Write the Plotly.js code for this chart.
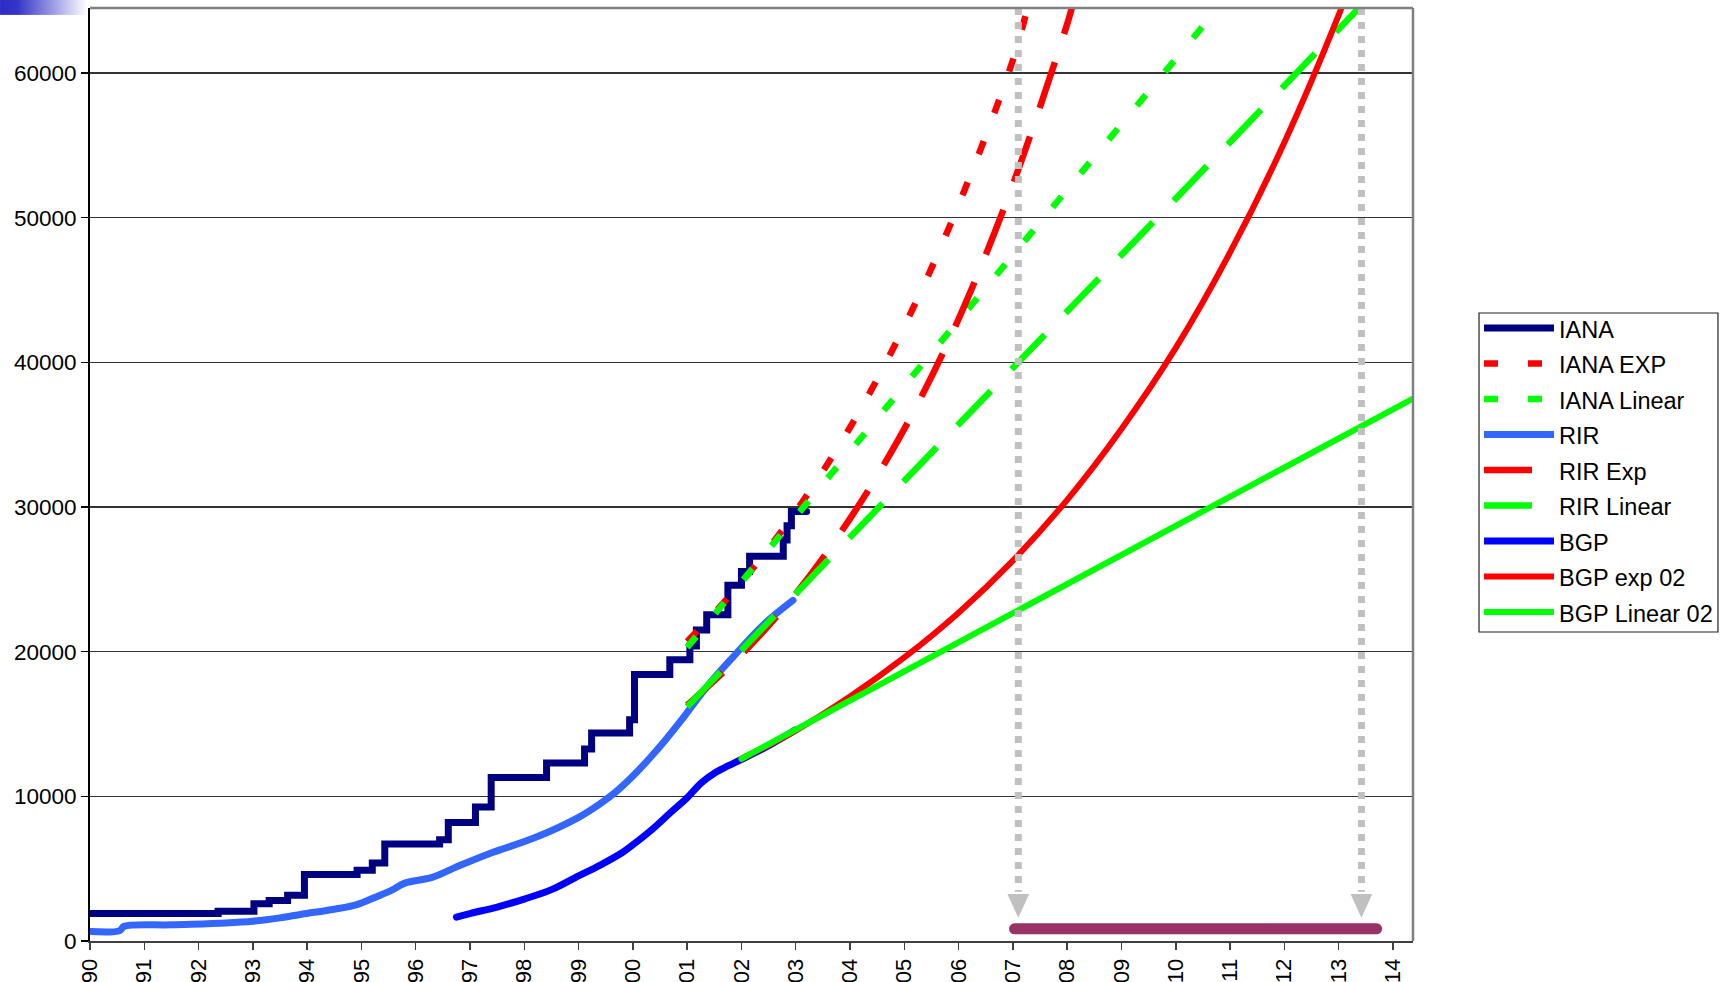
<!DOCTYPE html>
<html><head><meta charset="utf-8">
<script src="https://cdn.plot.ly/plotly-3.0.1.min.js"></script>
<style>
html,body{margin:0;padding:0;background:#fff;overflow:hidden;}
#chart{width:1720px;height:982px;}
.scatterlayer .trace:nth-child(1) path.js-line,
.scatterlayer .trace:nth-child(4) path.js-line,
.scatterlayer .trace:nth-child(7) path.js-line,
.scatterlayer .trace:nth-child(8) path.js-line,
.scatterlayer .trace:nth-child(9) path.js-line,
.scatterlayer .trace:nth-child(10) path.js-line{stroke-linecap:round;}
</style>
</head><body><div id="chart"></div>
<script>
// ---- axis ticks ----
const tickYears = [1990,1991,1992,1993,1994,1995,1996,1997,1998,1999,2000,2001,2002,2003,2004,2005,2006,2007,2008,2009,2010,2011,2012,2013,2014];
const tickLabels = ['90','91','92','93','94','95','96','97','98','99','00','01','02','03','04','05','06','07','08','09','10','11','12','13','14'];
const yTicks = [0,10000,20000,30000,40000,50000,60000];

// ---- IANA (step) ----
const ianaYears  = [1990.0,1992.36,1993.02,1993.3,1993.64,1993.95,1994.92,1995.2,1995.43,1996.44,1996.6,1997.1,1997.39,1998.41,1999.11,1999.24,1999.94,2000.03,2000.68,2001.05,2001.17,2001.36,2001.75,2002.0,2002.15,2002.77,2002.84,2002.92,2003.2];
const ianaValues = [1900,2050,2570,2800,3160,4600,4890,5400,6700,7000,8200,9270,11300,12300,13280,14380,15300,18420,19450,20400,21500,22550,24600,25550,26600,27720,28700,29700,29700];

// ---- IANA EXP / Linear ----
const ianaExpYears  = [2001,2002,2003,2004,2005,2006,2007,2007.3];
const ianaExpValues = [20700,24800,29700,35500,42500,50900,60900,65000];
const ianaLinYears  = [2001,2010.8];
const ianaLinValues = [20300,64600];

// ---- RIR ----
const rirYears  = [1990.0,1990.55,1990.62,1991.5,1992.5,1993.0,1993.5,1993.9,1994.5,1994.9,1995.3,1995.55,1995.8,1996.3,1996.8,1997.4,1998.2,1999.0,1999.4,1999.7,2000.0,2000.3,2000.6,2000.9,2001.2,2001.5,2001.86,2002.4,2002.95];
const rirValues = [650,720,1000,1120,1250,1370,1600,1850,2200,2500,3100,3500,4000,4400,5200,6100,7150,8550,9500,10350,11400,12600,13900,15300,16800,18200,19700,21850,23550];

// ---- RIR Exp / Linear ----
const rirExpYears  = [2001,2002,2003,2004,2005,2006,2007,2008,2008.1];
const rirExpValues = [16300,19800,24000,29200,35400,43000,52300,63400,64700];
const rirLinYears  = [2001,2013.4];
const rirLinValues = [16200,64600];

// ---- BGP ----
const bgpYears  = [1996.75,1997.0,1997.5,1998.0,1998.5,1999.0,1999.4,1999.8,2000.0,2000.35,2000.7,2001.0,2001.25,2001.5,2001.75,2002.0,2002.5,2003.0];
const bgpValues = [1650,1900,2350,2900,3550,4500,5250,6100,6650,7700,8900,9900,10900,11600,12100,12550,13500,14600];

// ---- BGP exp 02 / Linear 02 ----
const bgpExpYears  = [2002,2003,2004,2005,2006,2007,2008,2009,2010,2011,2012,2013,2013.2];
const bgpExpValues = [12600,14550,16900,19600,22700,26300,30500,35400,41000,47600,55200,64000,66000];
const bgpLinYears  = [2002,2014.37];
const bgpLinValues = [12600,37500];

// ---- exhaustion window annotations ----
const arrowYears = [2007.1,2013.42];
const arrowTopValue = 64500;
const arrowBaseValue = 3250;
const arrowTipValue = 1600;
const arrowHalfWidth = 0.2;
const windowYears = [2007.03,2013.7];
const windowValues = [840,840];

const names = ['IANA','IANA EXP','IANA Linear','RIR','RIR Exp','RIR Linear','BGP','BGP exp 02','BGP Linear 02'];
const lbl = n => '<span style="font-size:23.5px">' + n + '</span>';

const RED='#FF0000', GREEN='#00FF00';
const traces = [
  {x:ianaYears,y:ianaValues,name:lbl(names[0]),mode:'lines',line:{color:'#000080',width:7,shape:'hv'}},
  {x:ianaExpYears,y:ianaExpValues,name:lbl(names[1]),mode:'lines',line:{color:RED,width:6.5,dash:'14px,30px',shape:'spline'}},
  {x:ianaLinYears,y:ianaLinValues,name:lbl(names[2]),mode:'lines',line:{color:GREEN,width:6.5,dash:'14px,30px'}},
  {x:rirYears,y:rirValues,name:lbl(names[3]),mode:'lines',line:{color:'#3366FF',width:7,shape:'spline',smoothing:1}},
  {x:rirExpYears,y:rirExpValues,name:lbl(names[4]),mode:'lines',line:{color:RED,width:6.5,dash:'48px,30px',shape:'spline'}},
  {x:rirLinYears,y:rirLinValues,name:lbl(names[5]),mode:'lines',line:{color:GREEN,width:6.5,dash:'48px,30px'}},
  {x:bgpYears,y:bgpValues,name:lbl(names[6]),mode:'lines',line:{color:'#0000FF',width:7,shape:'spline',smoothing:1}},
  {x:bgpExpYears,y:bgpExpValues,name:lbl(names[7]),mode:'lines',line:{color:RED,width:6,shape:'spline'}},
  {x:bgpLinYears,y:bgpLinValues,name:lbl(names[8]),mode:'lines',line:{color:GREEN,width:6}},
  {x:windowYears,y:windowValues,mode:'lines',showlegend:false,hoverinfo:'skip',line:{color:'#993366',width:11}}
];

const shapes = [];
arrowYears.forEach(ax=>{
  shapes.push({type:'line',xref:'x',yref:'y',x0:ax,x1:ax,y0:arrowTopValue,y1:arrowBaseValue+150,layer:'above',
    line:{color:'#C0C0C0',width:7,dash:'7px,7px'}});
  shapes.push({type:'path',xref:'x',yref:'y',layer:'above',fillcolor:'#C0C0C0',line:{width:0},
    path:'M'+(ax-arrowHalfWidth)+','+arrowBaseValue+' L'+(ax+arrowHalfWidth)+','+arrowBaseValue+' L'+ax+','+arrowTipValue+' Z'});
});
// top and right frame lines
shapes.push({type:'line',xref:'paper',yref:'paper',x0:0,x1:1,y0:1,y1:1,layer:'above',line:{color:'#808080',width:2.5}});
shapes.push({type:'line',xref:'paper',yref:'paper',x0:1,x1:1,y0:0,y1:1,layer:'above',line:{color:'#808080',width:2.5}});
// legend frame
shapes.push({type:'rect',xref:'paper',yref:'paper',x0:1.0499,x1:1.2305,y0:0.3312,y1:0.6731,layer:'below',fillcolor:'#fff',line:{color:'#222',width:1.2}});

const grad = 'data:image/svg+xml;utf8,' + encodeURIComponent(
 '<svg xmlns="http://www.w3.org/2000/svg" width="100" height="20" preserveAspectRatio="none"><defs><linearGradient id="g" x1="0" x2="1" y1="0" y2="0"><stop offset="0" stop-color="#2B2BC8"/><stop offset="0.2" stop-color="#3535C8"/><stop offset="1" stop-color="#FFFFFF"/></linearGradient></defs><rect width="100" height="20" fill="url(#g)"/></svg>');

const FONT = 'Arial, "Liberation Sans", sans-serif';
const layout = {
  width:1720,height:982,
  paper_bgcolor:'#fff',plot_bgcolor:'rgba(0,0,0,0)',
  margin:{l:90,r:307,t:8,b:41,autoexpand:false},
  font:{family:FONT,size:22,color:'#000'},
  showlegend:true,
  legend:{x:1.0499,y:0.6813,xanchor:'left',yanchor:'top',bgcolor:'rgba(0,0,0,0)',borderwidth:0,
    font:{family:FONT,size:25,color:'#000'},itemwidth:70,tracegroupgap:0},
  xaxis:{range:[1990,2014.37],tickmode:'array',tickvals:tickYears,ticktext:tickLabels,tickangle:-90,
    ticks:'outside',ticklen:7,tickwidth:1.5,tickcolor:'#404040',showgrid:false,zeroline:false,
    showline:true,linecolor:'#404040',linewidth:2,tickfont:{family:FONT,size:22,color:'#000'},automargin:false,fixedrange:true},
  yaxis:{range:[0,64500],tickmode:'array',tickvals:yTicks,tickformat:'d',ticks:'outside',ticklen:7,tickwidth:1.5,tickcolor:'#000',
    showgrid:true,gridcolor:'#333',gridwidth:1.2,zeroline:false,showline:true,linecolor:'#000',linewidth:2,
    tickfont:{family:FONT,size:22.5,color:'#000'},automargin:false,fixedrange:true},
  shapes:shapes,
  images:[{source:grad,xref:'paper',yref:'paper',x:-0.068,y:1.0086,sizex:0.0658,sizey:0.016,sizing:'stretch',xanchor:'left',yanchor:'top',layer:'above'}]
};
Plotly.newPlot('chart',traces,layout,{staticPlot:true,displayModeBar:false});
</script>
</body></html>
